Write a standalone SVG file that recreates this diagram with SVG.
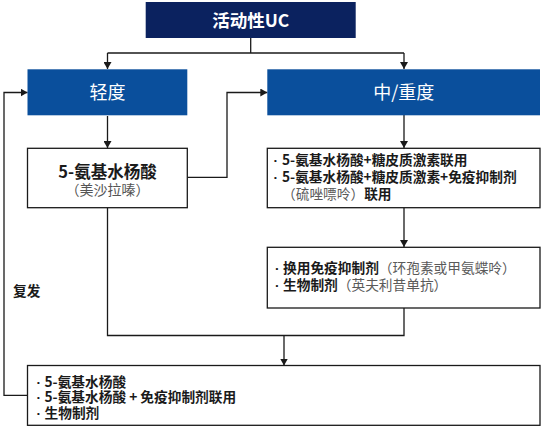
<svg xmlns="http://www.w3.org/2000/svg" width="543" height="427" viewBox="0 0 543 427">
<defs>
<marker id="arr" markerUnits="userSpaceOnUse" markerWidth="8" markerHeight="8" refX="7" refY="4" orient="auto">
<path d="M0,0 L7,4 L0,8 z" fill="#1a1a1a"/>
</marker>
<style>
text{font-family:"Noto Sans CJK SC","Noto Sans",sans-serif;}
.dark{fill:#0b225f;}
.blue{fill:#0a4f9c;}
.box{fill:#ffffff;stroke:#1a1a1a;stroke-width:1.3;}
.hw{fill:#ffffff;font-size:18px;text-anchor:middle;}
.t{font-size:13.7px;font-weight:bold;fill:#1a1a1a;}
.g{font-weight:normal;fill:#5a5a5a;}
.b{font-family:"Liberation Sans",sans-serif;font-weight:bold;}
.ln{fill:none;stroke:#1a1a1a;stroke-width:1.3;}
</style>
</defs>
<rect width="543" height="427" fill="#ffffff"/>
<g id="connectors">
<polyline class="ln" points="250.7,38 250.7,53"/>
<polyline class="ln" points="107.5,53 404,53"/>
<polyline class="ln" points="107.5,53 107.5,69" marker-end="url(#arr)"/>
<polyline class="ln" points="404,53 404,69" marker-end="url(#arr)"/>
<polyline class="ln" points="107.5,116 107.5,148" marker-end="url(#arr)"/>
<polyline class="ln" points="187.3,177.3 227,177.3 227,92.5 267.3,92.5" marker-end="url(#arr)"/>
<polyline class="ln" points="404,115 404,148" marker-end="url(#arr)"/>
<polyline class="ln" points="404,208 404,247" marker-end="url(#arr)"/>
<polyline class="ln" points="107.5,208 107.5,335.5 404,335.5 404,308"/>
<polyline class="ln" points="284,335.5 284,365.5" marker-end="url(#arr)"/>
<polyline class="ln" points="27.3,395.3 4,395.3 4,92.5 27.5,92.5" marker-end="url(#arr)"/>
<text class="t" x="13" y="295.5">复发</text>
</g>
<g id="active-uc">
<rect class="dark" x="145.7" y="2" width="210" height="36"/>
<text x="250.7" y="26.5" fill="#ffffff" font-size="17.5" font-weight="bold" text-anchor="middle">活动性UC</text>
</g>
<g id="mild">
<rect class="blue" x="27.5" y="69.3" width="159.8" height="46"/>
<text class="hw" x="107.5" y="99">轻度</text>
</g>
<g id="moderate-severe">
<rect class="blue" x="267.3" y="69.3" width="272.7" height="46"/>
<text class="hw" x="403.7" y="99">中/重度</text>
</g>
<g id="mesalazine">
<rect class="box" x="27.5" y="148.3" width="159.8" height="59.4"/>
<text x="107.5" y="177.5" font-size="16.5" font-weight="bold" fill="#1a1a1a" text-anchor="middle">5-氨基水杨酸</text>
<text x="107.5" y="195" font-size="14" fill="#555555" text-anchor="middle">（美沙拉嗪）</text>
</g>
<g id="combo">
<rect class="box" x="267.3" y="148.3" width="272.7" height="59.4"/>
<text class="t" y="165"><tspan class="b" x="273.5">·</tspan><tspan x="282">5-氨基水杨酸+糖皮质激素联用</tspan></text>
<text class="t" y="182"><tspan class="b" x="273.5">·</tspan><tspan x="282">5-氨基水杨酸+糖皮质激素+免疫抑制剂</tspan></text>
<text class="t" x="282" y="198.5"><tspan class="g">（硫唑嘌呤）</tspan>联用</text>
</g>
<g id="switch">
<rect class="box" x="267.3" y="247.3" width="272.7" height="60.7"/>
<text class="t" y="273"><tspan class="b" x="275">·</tspan><tspan x="283">换用免疫抑制剂</tspan><tspan class="g">（环孢素或甲氨蝶呤）</tspan></text>
<text class="t" y="290"><tspan class="b" x="275">·</tspan><tspan x="283">生物制剂</tspan><tspan class="g">（英夫利昔单抗）</tspan></text>
</g>
<g id="maintenance">
<rect class="box" x="27.5" y="365.5" width="512.5" height="59.8"/>
<text class="t" y="386.5"><tspan class="b" x="36.5">·</tspan><tspan x="44.5">5-氨基水杨酸</tspan></text>
<text class="t" y="402"><tspan class="b" x="36.5">·</tspan><tspan x="44.5">5-氨基水杨酸 + 免疫抑制剂联用</tspan></text>
<text class="t" y="418"><tspan class="b" x="36.5">·</tspan><tspan x="44.5">生物制剂</tspan></text>
</g>
</svg>
